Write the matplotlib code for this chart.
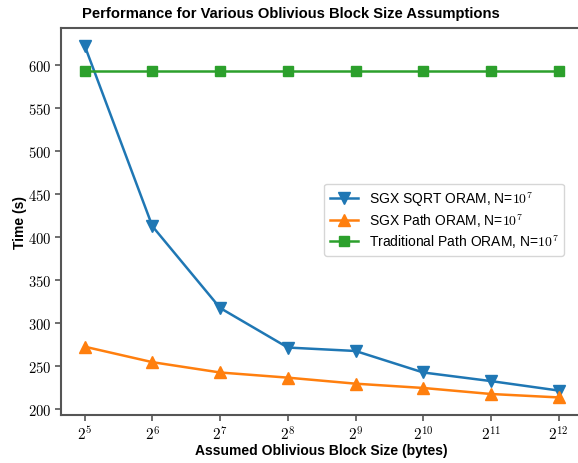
import matplotlib
matplotlib.use('Agg')
import matplotlib.pyplot as plt

plt.rcParams['mathtext.fontset'] = 'cm'
plt.rcParams['font.family'] = ['Liberation Sans', 'DejaVu Sans']

## block sizes as powers of two
exps = [5, 6, 7, 8, 9, 10, 11, 12]
xlabs = [f'$2^{{{e}}}$' for e in exps]
sqrt_oram = [622, 412, 317, 271, 267, 242, 232, 221]
path_oram = [272, 254, 242, 236, 229, 224, 217, 213]
trad_oram = [593, 593, 593, 593, 593, 593, 593, 593]

fig = plt.figure(figsize=(5.78, 4.64), dpi=100)
ax = fig.add_axes([0.1055, 0.1034, 0.902, 0.834])

ax.plot(exps, sqrt_oram, color='#1f77b4', marker='v', ms=8, lw=1.8, label='SGX SQRT ORAM, N=$10^7$')
ax.plot(exps, path_oram, color='#ff7f0e', marker='^', ms=8, lw=1.8, label='SGX Path ORAM, N=$10^7$')
ax.plot(exps, trad_oram, color='#2ca02c', marker='s', ms=7, lw=1.8, label='Traditional Path ORAM, N=$10^7$')

ax.set_xticks(exps)
ax.set_xticklabels(xlabs, fontsize=11)
ax.set_yticks(range(200, 601, 50))
ax.set_yticklabels([f'${v}$' for v in range(200, 601, 50)], fontsize=10.5)

for s in ax.spines.values():
    s.set_color('#555555')
    s.set_linewidth(1.5)
ax.tick_params(color='#555555', width=1.2, length=4, pad=3)

ax.set_title('Performance for Various Oblivious Block Size Assumptions', fontsize=10.6,
             fontweight='bold', x=0.441, pad=8)
ax.set_xlabel('Assumed Oblivious Block Size (bytes)', fontsize=10, fontweight='bold', labelpad=0)
ax.set_ylabel('Time (s)', fontsize=10, fontweight='bold', labelpad=1)
ax.legend(loc='center right', fontsize=10, bbox_to_anchor=(0.978, 0.505),
          handlelength=2.0, borderpad=0.4, labelspacing=0.25, handletextpad=0.8)

fig.savefig('out.png')
